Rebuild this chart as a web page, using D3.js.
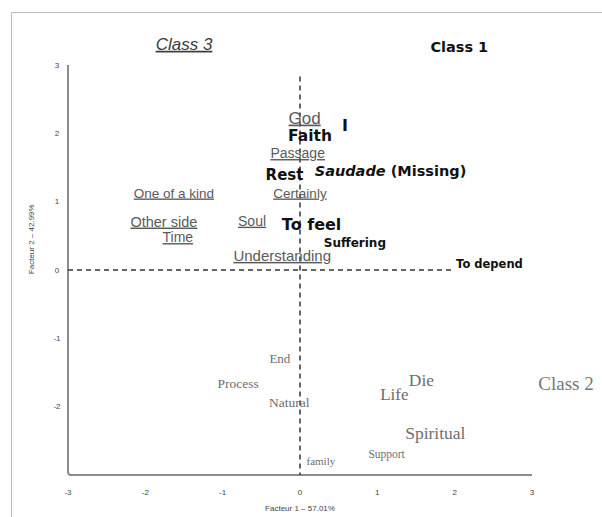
<!DOCTYPE html>
<html>
<head>
<meta charset="utf-8">
<script src="https://cdn.jsdelivr.net/npm/d3@7"></script>
<style>
body { margin: 0; background: #fff; }
</style>
</head>
<body>
<svg width="602" height="517"></svg>
<script>
// correspondence analysis: word coordinates on factor 1 / factor 2
var class3Words = ["God", "Passage", "One of a kind", "Certainly", "Other side", "Time", "Soul", "Understanding"];
var class3X = [0.06, -0.03, -1.63, 0.00, -1.76, -1.58, -0.62, -0.23];
var class3Y = [2.23, 1.71, 1.13, 1.13, 0.71, 0.48, 0.72, 0.21];

var class1Words = ["I", "Faith", "Rest", "Saudade (Missing)", "To feel", "Suffering", "To depend"];
var class1X = [0.58, 0.13, -0.20, 1.17, 0.15, 0.71, 2.45];
var class1Y = [2.12, 1.97, 1.40, 1.45, 0.67, 0.40, 0.09];

var class2Words = ["End", "Process", "Natural", "Die", "Life", "Spiritual", "Support", "family"];
var class2X = [-0.26, -0.80, -0.14, 1.57, 1.22, 1.75, 1.12, 0.27];
var class2Y = [-1.30, -1.66, -1.94, -1.61, -1.82, -2.38, -2.69, -2.79];

var classNames = ["Class 3", "Class 1", "Class 2"];
var classX = [-1.50, 2.06, 3.44];
var classY = [3.31, 3.27, -1.66];

var ticks = [-3, -2, -1, 0, 1, 2, 3];
var xTitle = "Facteur 1 \u2013 57.01%";
var yTitle = "Facteur 2 \u2013 42.99%";

// font sizes of each word
var sizes = {
    "God": 17, "Passage": 14, "One of a kind": 13.5, "Certainly": 13.5, "Other side": 14.5, "Time": 14,
    "Soul": 14, "Understanding": 15,
    "I": 16, "Faith": 15.5, "Rest": 15, "Saudade (Missing)": 14.5, "To feel": 16, "Suffering": 12, "To depend": 11.5,
    "End": 13, "Process": 13.5, "Natural": 13.5, "Die": 17.5, "Life": 17, "Spiritual": 17.5, "Support": 11.5, "family": 11
};

var svg = d3.select("svg");

var x = d3.scaleLinear().domain([-3, 3]).range([68, 532]);
var y = d3.scaleLinear().domain([-3, 3]).range([475, 65]);

// outer frame
svg.append("path")
    .attr("d", "M11.5,517 L11.5,12.5 L602,12.5")
    .attr("fill", "none")
    .attr("stroke", "#bbb")
    .attr("stroke-width", 1);

// axes (L shape with rounded corner)
svg.append("path")
    .attr("d", "M" + x(-3) + "," + y(3) + " L" + x(-3) + "," + (y(-3) - 3) +
        " Q" + x(-3) + "," + y(-3) + " " + (x(-3) + 3) + "," + y(-3) + " L" + x(3) + "," + y(-3))
    .attr("fill", "none")
    .attr("stroke", "#8c8c8c")
    .attr("stroke-width", 2);

svg.selectAll(".ytick")
    .data(ticks.slice(1))
    .enter().append("text")
    .attr("class", "ytick")
    .attr("x", x(-3) - 11)
    .attr("y", function(d) { return y(d); })
    .attr("dy", "0.35em")
    .attr("text-anchor", "middle")
    .attr("font-family", "Liberation Sans, Arial, sans-serif")
    .attr("font-size", 8)
    .attr("fill", "#444")
    .text(function(d) { return d; });

svg.selectAll(".xtick")
    .data(ticks)
    .enter().append("text")
    .attr("class", "xtick")
    .attr("x", function(d) { return x(d); })
    .attr("y", 495)
    .attr("text-anchor", "middle")
    .attr("font-family", "Liberation Sans, Arial, sans-serif")
    .attr("font-size", 8)
    .attr("fill", "#444")
    .text(function(d) { return d; });

svg.append("text")
    .attr("x", x(0))
    .attr("y", 511)
    .attr("text-anchor", "middle")
    .attr("font-family", "Liberation Sans, Arial, sans-serif")
    .attr("font-size", 8)
    .attr("fill", "#444")
    .text(xTitle);

svg.append("text")
    .attr("transform", "translate(34," + y(0.45) + ") rotate(-90)")
    .attr("text-anchor", "middle")
    .attr("font-family", "Liberation Sans, Arial, sans-serif")
    .attr("font-size", 8)
    .attr("fill", "#444")
    .text(yTitle);

// dashed reference lines
svg.append("line")
    .attr("x1", x(-3)).attr("x2", x(2.0))
    .attr("y1", y(0)).attr("y2", y(0))
    .attr("stroke", "#333")
    .attr("stroke-width", 1.5)
    .attr("stroke-dasharray", "5,4");

svg.append("line")
    .attr("x1", x(0)).attr("x2", x(0))
    .attr("y1", y(2.83)).attr("y2", y(-3))
    .attr("stroke", "#333")
    .attr("stroke-width", 1.5)
    .attr("stroke-dasharray", "5,4");

function words(names, xs, ys) {
    return names.map(function(n, i) { return {name: n, x: xs[i], y: ys[i]}; });
}

// class 3: underlined sans
svg.selectAll(".c3")
    .data(words(class3Words, class3X, class3Y))
    .enter().append("text")
    .attr("class", "c3")
    .attr("x", function(d) { return x(d.x); })
    .attr("y", function(d) { return y(d.y); })
    .attr("dy", "0.35em")
    .attr("text-anchor", "middle")
    .attr("font-family", "Liberation Sans, Arial, sans-serif")
    .attr("font-size", function(d) { return sizes[d.name]; })
    .attr("fill", "#5a5a5a")
    .style("text-decoration", "underline")
    .text(function(d) { return d.name; });

// class 1: bold informal
var c1 = svg.selectAll(".c1")
    .data(words(class1Words, class1X, class1Y))
    .enter().append("text")
    .attr("class", "c1")
    .attr("x", function(d) { return x(d.x); })
    .attr("y", function(d) { return y(d.y); })
    .attr("dy", "0.35em")
    .attr("text-anchor", "middle")
    .attr("font-family", "Comic Sans MS, DejaVu Sans, sans-serif")
    .attr("font-weight", "bold")
    .attr("font-size", function(d) { return sizes[d.name]; })
    .attr("fill", "#111");

c1.each(function(d) {
    var t = d3.select(this);
    if (d.name.indexOf("Saudade") === 0) {
        t.append("tspan").attr("font-style", "italic").text("Saudade");
        t.append("tspan").text(d.name.slice(7));
    } else {
        t.text(d.name);
    }
});

// class 2: serif grey
svg.selectAll(".c2")
    .data(words(class2Words, class2X, class2Y))
    .enter().append("text")
    .attr("class", "c2")
    .attr("x", function(d) { return x(d.x); })
    .attr("y", function(d) { return y(d.y); })
    .attr("dy", "0.35em")
    .attr("text-anchor", "middle")
    .attr("font-family", "Liberation Serif, Times New Roman, serif")
    .attr("font-size", function(d) { return sizes[d.name]; })
    .attr("fill", "#6e6e6e")
    .text(function(d) { return d.name; });

// class headers
var heads = words(classNames, classX, classY);
svg.append("text")
    .attr("x", x(heads[0].x)).attr("y", y(heads[0].y)).attr("dy", "0.35em")
    .attr("text-anchor", "middle")
    .attr("font-family", "Liberation Sans, Arial, sans-serif")
    .attr("font-style", "italic")
    .attr("font-size", 17)
    .attr("fill", "#3a3a3a")
    .style("text-decoration", "underline")
    .text(heads[0].name);

svg.append("text")
    .attr("x", x(heads[1].x)).attr("y", y(heads[1].y)).attr("dy", "0.35em")
    .attr("text-anchor", "middle")
    .attr("font-family", "Comic Sans MS, DejaVu Sans, sans-serif")
    .attr("font-weight", "bold")
    .attr("font-size", 14.5)
    .attr("fill", "#111")
    .text(heads[1].name);

svg.append("text")
    .attr("x", x(heads[2].x)).attr("y", y(heads[2].y)).attr("dy", "0.35em")
    .attr("text-anchor", "middle")
    .attr("font-family", "Liberation Serif, Times New Roman, serif")
    .attr("font-size", 19)
    .attr("fill", "#777")
    .text(heads[2].name);
</script>
</body>
</html>
